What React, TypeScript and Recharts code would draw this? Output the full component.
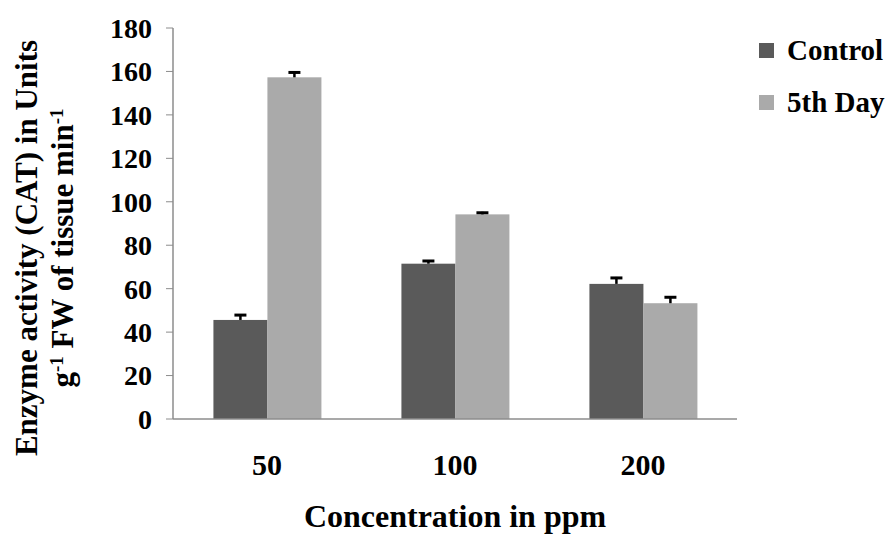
import React from 'react';
import { BarChart, Bar, XAxis, YAxis, Legend, Label } from 'recharts';

const concentrations = ['50', '100', '200'];
const controlValues = [45.6, 71.5, 62.2];
const controlErrors = [2.7, 1.7, 3.2];
const day5Values = [157.3, 94.2, 53.3];
const day5Errors = [2.7, 1.2, 3.2];
const yTicks = [0, 20, 40, 60, 80, 100, 120, 140, 160, 180];
const edgeTicks = [0, 1, 2, 3];

const FONT = 'Liberation Serif';
const AXIS_GREY = '#8c8c8c';

const chartData = concentrations.map((c, i) => ({
  conc: c,
  control: controlValues[i],
  controlErr: controlErrors[i],
  day5: day5Values[i],
  day5Err: day5Errors[i]
}));

// bar with an upward-only error whisker
const barWithError = (valKey: string, errKey: string) => (props: any) => {
  const { x, y, width, height, fill, payload } = props;
  const unit = height / payload[valKey];
  const errTop = y - payload[errKey] * unit;
  const cx = x + width / 2;
  return (
    <g>
      <rect x={x} y={y} width={width} height={height} fill={fill} />
      <line x1={cx} x2={cx} y1={y} y2={errTop} stroke="#000" strokeWidth={2.5} />
      <line x1={cx - 6} x2={cx + 6} y1={errTop + 1} y2={errTop + 1} stroke="#000" strokeWidth={3} />
    </g>
  );
};

const renderLegend = (props: any) => (
  <div>
    {props.payload.map((p: any) => (
      <div key={p.value} style={{ display: 'flex', alignItems: 'center', height: 52 }}>
        <span style={{ display: 'inline-block', width: 15, height: 15, background: p.color, marginRight: 13 }} />
        <span style={{ fontFamily: FONT, fontWeight: 'bold', fontSize: 29, color: '#000' }}>{p.value}</span>
      </div>
    ))}
  </div>
);

const renderYLabel = () => {
  const cy = 248;
  return (
    <g fontFamily={FONT} fontWeight="bold" fontSize={31} fill="#000">
      <text x={37} y={cy} textAnchor="middle" transform={`rotate(-90, 37, ${cy})`}>
        Enzyme activity (CAT) in Units
      </text>
      <text x={73} y={cy} textAnchor="middle" transform={`rotate(-90, 73, ${cy})`}>
        g<tspan baselineShift="super" fontSize={19}>-1</tspan> FW of tissue min<tspan baselineShift="super" fontSize={19}>-1</tspan>
      </text>
    </g>
  );
};

const App: React.FC = () => {
  const yTickStyle = { fontFamily: FONT, fontWeight: 'bold', fontSize: 28, fill: '#000' };
  const xTickStyle = { fontFamily: FONT, fontWeight: 'bold', fontSize: 30, fill: '#000' };
  return (
    <div style={{ position: 'absolute', left: 0, top: 0, background: '#fff' }}>
      <BarChart
        width={886}
        height={537}
        data={chartData}
        margin={{ top: 28, right: 149, left: 0, bottom: 0 }}
        barCategoryGap="21.5%"
        barGap={0}
      >
        <XAxis
          xAxisId="edge"
          type="number"
          domain={[0, 3]}
          ticks={edgeTicks}
          tickFormatter={() => ''}
          axisLine={false}
          tickLine={{ stroke: AXIS_GREY }}
          tickSize={7}
          height={0}
        />
        <XAxis
          dataKey="conc"
          height={118}
          tickLine={false}
          tickSize={0}
          tickMargin={35}
          axisLine={{ stroke: AXIS_GREY, strokeWidth: 1.5 }}
          tick={xTickStyle}
        >
          <Label
            value="Concentration in ppm"
            position="insideBottom"
            offset={10}
            fontFamily={FONT}
            fontWeight="bold"
            fontSize={32}
            fill="#000"
          />
        </XAxis>
        <YAxis
          width={173}
          domain={[0, 180]}
          ticks={yTicks}
          interval={0}
          tickSize={7}
          tickMargin={14}
          axisLine={{ stroke: AXIS_GREY, strokeWidth: 1.5 }}
          tickLine={{ stroke: AXIS_GREY }}
          tick={yTickStyle}
        >
          <Label content={renderYLabel} />
        </YAxis>
        <Legend
          layout="vertical"
          align="center"
          verticalAlign="middle"
          itemSorter="dataKey"
          content={renderLegend}
          wrapperStyle={{ left: 759, top: 24, width: 127 }}
        />
        <Bar dataKey="control" name="Control" fill="#5a5a5a" isAnimationActive={false} shape={barWithError('control', 'controlErr')} />
        <Bar dataKey="day5" name="5th Day" fill="#aaaaaa" isAnimationActive={false} shape={barWithError('day5', 'day5Err')} />
      </BarChart>
    </div>
  );
};

export default App;
